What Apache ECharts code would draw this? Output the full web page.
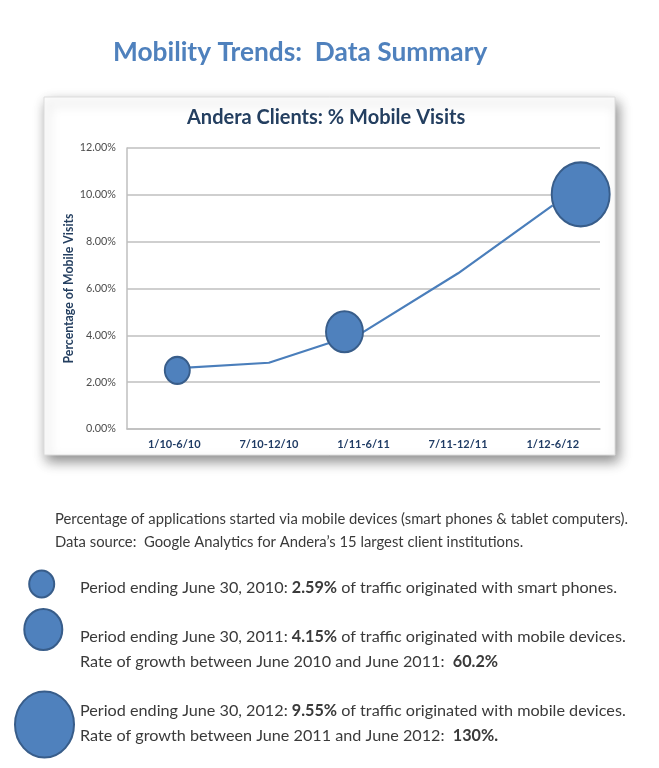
<!DOCTYPE html>
<html>
<head>
<meta charset="utf-8">
<title>Mobility Trends: Data Summary</title>
<script src="https://cdn.jsdelivr.net/npm/echarts@6/dist/echarts.min.js"></script>
<style>
  html, body { margin: 0; padding: 0; background: #fff; }
  #chart { width: 659px; height: 768px; }
</style>
</head>
<body>
<div id="chart"></div>
<script>
// data
const categories = ['1/10-6/10', '7/10-12/10', '1/11-6/11', '7/11-12/11', '1/12-6/12']
const mobileVisits = [2.59, 2.83, 4.15, 6.65, 9.55]
const yMin = 0
const yMax = 12
const yStep = 2

// the hand placed bubbles on the line (index -> look)
const bubbles = {
  0: {size: [25, 27], offset: [3, 2]},
  2: {size: [37, 41], offset: [-19, 0]},
  4: {size: [58, 64], offset: [28, -11]}
}

const font = 'Lato, "Open Sans", sans-serif'
const blue = '#4f81bd'
const blueEdge = '#385d8a'
const navy = '#243f60'
const grey = '#3a3a3a'

let seriesData = mobileVisits.map((v, i) => {
  let b = bubbles[i]
  if (!b) return {value: v, symbol: 'none'}
  return {value: v, symbol: 'circle', symbolSize: b.size, symbolOffset: b.offset}
})

// text lines under the chart
function note(text, left, top, size) {
  return {
    text: text,
    left: left,
    top: top,
    padding: 0,
    textStyle: {
      fontFamily: font,
      fontSize: size,
      fontWeight: 'normal',
      color: grey,
      rich: {
        b: {fontFamily: font, fontSize: size, fontWeight: 'bold', color: grey}
      }
    }
  }
}

function ellipse(cx, cy, rx, ry) {
  return {
    type: 'ellipse',
    shape: {cx: cx, cy: cy, rx: rx, ry: ry},
    style: {fill: blue, stroke: blueEdge, lineWidth: 2}
  }
}

let chart = echarts.init(document.getElementById('chart'))
let option = {
  backgroundColor: '#fff',
  animation: false,
  title: [
    {
      text: 'Mobility Trends:  Data Summary',
      left: 113,
      top: 40,
      padding: 0,
      textStyle: {fontFamily: font, fontSize: 26.3, fontWeight: 'bold', color: blue}
    },
    {
      text: 'Andera Clients: % Mobile Visits',
      left: 187,
      top: 108,
      padding: 0,
      textStyle: {fontFamily: font, fontSize: 20, fontWeight: 'bold', color: navy}
    },
    note('Percentage of applications started via mobile devices (smart phones & tablet computers).', 55, 511.5, 14.8),
    note('Data source:  Google Analytics for Andera\u2019s 15 largest client institutions.', 55, 534.5, 14.8),
    note('Period ending June 30, 2010: {b|2.59%} of traffic originated with smart phones.', 80, 580, 16.2),
    note('Period ending June 30, 2011: {b|4.15%} of traffic originated with mobile devices.', 80, 628.5, 16.2),
    note('Rate of growth between June 2010 and June 2011:  {b|60.2%}', 80, 654, 16.2),
    note('Period ending June 30, 2012: {b|9.55%} of traffic originated with mobile devices.', 80, 702.5, 16.2),
    note('Rate of growth between June 2011 and June 2012:  {b|130%.}', 80, 727.5, 16.2)
  ],
  graphic: [
    {
      type: 'rect',
      z: -10,
      shape: {x: 44, y: 97, width: 571, height: 358},
      style: {
        fill: '#fff',
        stroke: '#dcdcdc',
        lineWidth: 1,
        shadowBlur: 12,
        shadowOffsetX: 3,
        shadowOffsetY: 6,
        shadowColor: 'rgba(0,0,0,0.45)'
      }
    },
    ellipse(41.7, 584, 12.5, 13.5),
    ellipse(43.3, 629.5, 19, 20.5),
    ellipse(44.5, 724.5, 29.5, 33)
  ],
  grid: {
    left: 127,
    top: 148,
    right: 59,
    bottom: 339
  },
  xAxis: {
    type: 'category',
    data: categories,
    boundaryGap: true,
    axisTick: {show: false},
    axisLine: {lineStyle: {color: '#bfbfbf', width: 1.5}},
    axisLabel: {
      margin: 10,
      fontFamily: font,
      fontSize: 11,
      fontWeight: 'bold',
      color: '#1f3b64'
    }
  },
  yAxis: {
    type: 'value',
    min: yMin,
    max: yMax,
    interval: yStep,
    name: 'Percentage of Mobile Visits',
    nameLocation: 'middle',
    nameGap: 52,
    nameMoveOverlap: false,
    nameTextStyle: {fontFamily: font, fontSize: 12.3, fontWeight: 'bold', color: navy},
    axisLine: {show: true, lineStyle: {color: '#bfbfbf', width: 1.5}},
    axisTick: {show: false},
    splitLine: {lineStyle: {color: '#bfbfbf', width: 1.5}},
    axisLabel: {
      margin: 11,
      fontFamily: font,
      fontSize: 10.8,
      color: '#4d4d4d',
      formatter: v => v.toFixed(2) + '%'
    }
  },
  series: [
    {
      type: 'line',
      data: seriesData,
      smooth: false,
      clip: false,
      showAllSymbol: true,
      lineStyle: {color: '#4a7ebb', width: 2.2},
      itemStyle: {color: blue, borderColor: blueEdge, borderWidth: 2},
      emphasis: {disabled: true}
    }
  ]
}
chart.setOption(option)
</script>
</body>
</html>
